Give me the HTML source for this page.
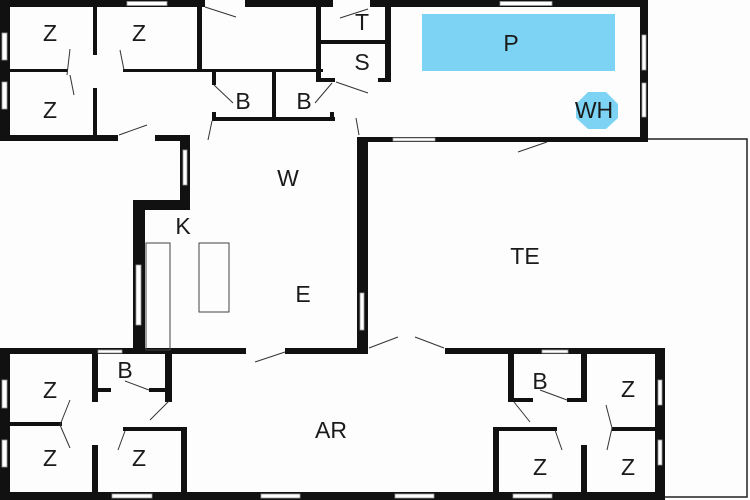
<!DOCTYPE html>
<html><head><style>
html,body{margin:0;padding:0;background:#fff;}
svg{display:block;}
text{font-family:"Liberation Sans",sans-serif;font-size:23px;fill:#1a1a1a;text-anchor:middle;dominant-baseline:central;}
</style></head><body>
<svg width="750" height="500" viewBox="0 0 750 500" xmlns="http://www.w3.org/2000/svg">
<rect width="750" height="500" fill="#fdfdfd"/>
<!-- terrace outline -->
<polyline points="648,139 747,139 747,497 663,497" fill="none" stroke="#222" stroke-width="1.5"/>
<!-- pool & WH -->
<rect x="422" y="14" width="193" height="57" fill="#7dd3f3"/>
<polygon points="588,92 606,92 618,104 618,118 606,129 588,129 576,118 576,104" fill="#7dd3f3"/>
<g fill="#111">
<!-- top section walls -->
<rect x="0" y="0" width="205" height="7"/>
<rect x="245" y="0" width="88" height="7"/>
<rect x="370" y="0" width="278" height="7"/>
<rect x="0" y="0" width="10" height="141"/>
<rect x="640" y="0" width="8" height="142"/>
<rect x="0" y="135" width="118" height="6"/>
<rect x="155" y="135" width="35" height="6"/>
<rect x="93" y="7" width="4" height="48"/>
<rect x="93" y="88" width="4" height="48"/>
<rect x="10" y="69" width="58" height="3"/>
<rect x="123" y="69" width="200" height="3"/>
<rect x="197" y="7" width="5" height="65"/>
<rect x="212" y="72" width="4" height="13"/>
<rect x="212" y="112" width="4" height="9"/>
<rect x="272" y="70" width="4" height="50"/>
<rect x="212" y="117" width="123" height="4"/>
<rect x="330" y="112" width="4" height="9"/>
<rect x="316" y="0" width="5" height="82"/>
<rect x="316" y="40" width="74" height="4"/>
<rect x="316" y="78" width="19" height="4"/>
<rect x="385" y="7" width="6" height="75"/>
<rect x="378" y="78" width="13" height="4"/>
<rect x="358" y="137" width="290" height="5"/>
<!-- middle -->
<rect x="180" y="135" width="10" height="75"/>
<rect x="133" y="200" width="57" height="10"/>
<rect x="133" y="200" width="12" height="152"/>
<rect x="357" y="137" width="11" height="216"/>
<!-- bottom section -->
<rect x="0" y="348" width="246" height="6"/>
<rect x="285" y="348" width="83" height="6"/>
<rect x="445" y="348" width="220" height="6"/>
<rect x="0" y="348" width="10" height="152"/>
<rect x="0" y="492" width="665" height="8"/>
<rect x="655" y="348" width="10" height="152"/>
<rect x="92" y="354" width="6" height="48"/>
<rect x="92" y="445" width="6" height="48"/>
<rect x="165" y="354" width="7" height="48"/>
<rect x="98" y="388" width="13" height="4"/>
<rect x="149" y="388" width="21" height="4"/>
<rect x="10" y="422" width="52" height="4"/>
<rect x="123" y="427" width="64" height="4"/>
<rect x="181" y="427" width="6" height="66"/>
<rect x="508" y="354" width="6" height="48"/>
<rect x="514" y="398" width="19" height="4"/>
<rect x="567" y="398" width="20" height="4"/>
<rect x="581" y="354" width="6" height="48"/>
<rect x="581" y="445" width="6" height="48"/>
<rect x="612" y="427" width="43" height="4"/>
<rect x="493" y="427" width="64" height="4"/>
<rect x="493" y="427" width="6" height="66"/>
</g>
<!-- windows -->
<g fill="#fff" stroke="#999" stroke-width="0.8">
<rect x="127" y="1.5" width="40" height="4"/>
<rect x="500" y="1.5" width="52" height="4"/>
<rect x="642" y="35" width="4" height="35"/>
<rect x="642" y="83" width="4" height="34"/>
<rect x="2" y="33" width="5" height="27"/>
<rect x="2" y="82" width="5" height="27"/>
<rect x="183" y="150" width="4" height="35"/>
<rect x="393" y="138" width="42" height="3"/>
<rect x="360" y="293" width="4" height="37"/>
<rect x="136" y="265" width="5" height="60"/>
<rect x="98" y="350" width="24" height="3"/>
<rect x="542" y="350" width="26" height="3"/>
<rect x="2" y="380" width="5" height="28"/>
<rect x="2" y="440" width="5" height="27"/>
<rect x="658" y="380" width="4" height="25"/>
<rect x="658" y="440" width="4" height="25"/>
<rect x="112" y="494" width="40" height="4"/>
<rect x="261" y="494" width="39" height="4"/>
<rect x="395" y="494" width="39" height="4"/>
<rect x="513" y="494" width="39" height="4"/>
</g>
<!-- kitchen -->
<g fill="none" stroke="#444" stroke-width="1">
<rect x="146" y="243" width="24" height="107"/>
<rect x="199" y="243" width="30" height="69"/>
</g>
<!-- door swings -->
<g stroke="#333" stroke-width="1" fill="none">
<line x1="205" y1="7" x2="236" y2="17"/>
<line x1="119" y1="135" x2="147" y2="125"/>
<line x1="70" y1="49" x2="67" y2="75"/>
<line x1="70" y1="75" x2="74" y2="95"/>
<line x1="120" y1="50" x2="124" y2="70"/>
<line x1="214" y1="85" x2="233" y2="103"/>
<line x1="332" y1="83" x2="315" y2="103"/>
<line x1="336" y1="82" x2="368" y2="93"/>
<line x1="356" y1="118" x2="359" y2="135"/>
<line x1="212" y1="121" x2="208" y2="140"/>
<line x1="340" y1="18" x2="368" y2="9"/>
<line x1="518" y1="152" x2="547" y2="142"/>
<line x1="255" y1="362" x2="285" y2="352"/>
<line x1="369" y1="348" x2="398" y2="337"/>
<line x1="444" y1="348" x2="415" y2="337"/>
<line x1="125" y1="381" x2="149" y2="390"/>
<line x1="540" y1="390" x2="567" y2="400"/>
<line x1="70" y1="400" x2="60" y2="425"/>
<line x1="60" y1="425" x2="70" y2="448"/>
<line x1="125" y1="431" x2="118" y2="450"/>
<line x1="169" y1="401" x2="150" y2="420"/>
<line x1="514" y1="402" x2="530" y2="422"/>
<line x1="555" y1="430" x2="562" y2="450"/>
<line x1="606" y1="405" x2="612" y2="428"/>
<line x1="612" y1="428" x2="607" y2="450"/>
</g>
<!-- labels -->
<text x="50" y="33">Z</text>
<text x="139" y="33">Z</text>
<text x="50" y="110">Z</text>
<text x="243" y="101">B</text>
<text x="304" y="101">B</text>
<text x="362" y="22">T</text>
<text x="362" y="62">S</text>
<text x="511" y="43">P</text>
<text x="594" y="110">WH</text>
<text x="288" y="178">W</text>
<text x="183" y="226">K</text>
<text x="303" y="294">E</text>
<text x="525" y="256">TE</text>
<text x="331" y="430">AR</text>
<text x="50" y="390">Z</text>
<text x="50" y="458">Z</text>
<text x="139" y="458">Z</text>
<text x="125" y="370">B</text>
<text x="540" y="381">B</text>
<text x="628" y="389">Z</text>
<text x="540" y="467">Z</text>
<text x="628" y="467">Z</text>
</svg>
</body></html>
